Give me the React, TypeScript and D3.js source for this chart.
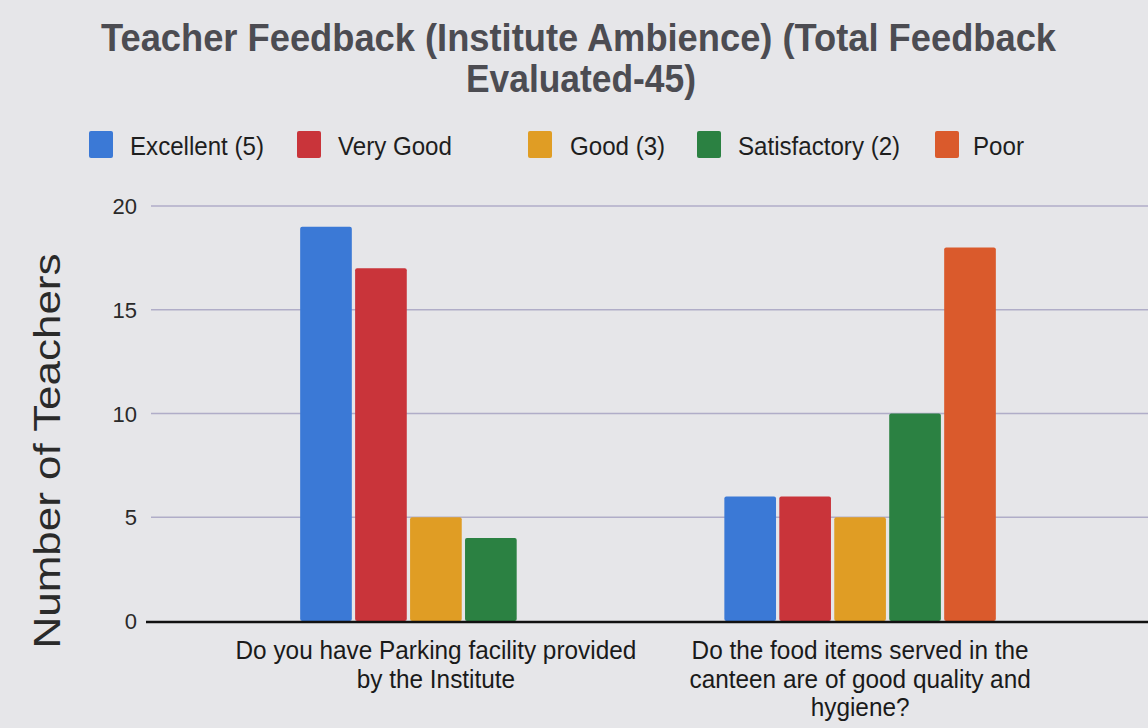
import React from "react";
import * as d3 from "d3";

const categories = [
  ["Do you have Parking facility provided", "by the Institute"],
  ["Do the food items served in the", "canteen are of good quality and", "hygiene?"],
];
const seriesNames = ["Excellent (5)", "Very Good", "Good (3)", "Satisfactory (2)", "Poor"];
const seriesColors = ["#3b79d6", "#c9343a", "#e09d24", "#2b8142", "#da5a2c"];
const excellent = [19, 6];
const veryGood = [17, 6];
const good = [5, 5];
const satisfactory = [4, 10];
const poor = [0, 18];
const yTicks = [0, 5, 10, 15, 20];
const titleLines = ["Teacher Feedback (Institute Ambience) (Total Feedback", "Evaluated-45)"];
const yTitle = "Number of Teachers";

const W = 1148;
const H = 728;

export default function App() {
  const values = [excellent, veryGood, good, satisfactory, poor];
  const left = 150;
  const right = 1146;
  const top = 206;
  const bottom = 621;
  const x0 = d3
    .scaleBand<number>()
    .domain(categories.map((_, i) => i))
    .range([left, right])
    .paddingInner(0.36)
    .paddingOuter(0.354);
  const x1 = d3
    .scaleBand<number>()
    .domain(seriesNames.map((_, i) => i))
    .range([0, x0.bandwidth()])
    .paddingInner(0.06);
  const y = d3.scaleLinear().domain([0, 20]).range([bottom, top]);

  const legendSwatchX = [89, 297, 528, 697, 935];
  const legendTextX = [130, 338, 570, 738, 973];
  const sans = "'Liberation Sans', Arial, sans-serif";
  const titleLen = [955, 230];
  const titleCx = [578.5, 581];

  return (
    <svg
      width={W}
      height={H}
      style={{ position: "absolute", left: 0, top: 0, background: "#e6e6e9" }}
    >
      <rect x={0} y={0} width={W} height={H} fill="#e6e6e9" />
      {titleLines.map((t, i) => (
        <text
          key={i}
          x={titleCx[i]}
          y={51 + i * 41}
          textAnchor="middle"
          fontFamily={sans}
          fontWeight="bold"
          fontSize={39}
          textLength={titleLen[i]}
          lengthAdjust="spacingAndGlyphs"
          fill="#4c4c52"
        >
          {t}
        </text>
      ))}
      {seriesNames.map((s, i) => (
        <g key={s}>
          <rect x={legendSwatchX[i]} y={131} width={24} height={27} rx={2} fill={seriesColors[i]} />
          <text
            transform={`translate(${legendTextX[i]},155) scale(0.965,1)`}
            fontFamily={sans}
            fontSize={25}
            fill="#1e1e1e"
          >
            {s}
          </text>
        </g>
      ))}
      {yTicks.map((t) => (
        <g key={t}>
          {t !== 0 && (
            <line x1={151} x2={W} y1={y(t)} y2={y(t)} stroke="#b0adc8" strokeWidth={1.3} />
          )}
          <text
            x={137}
            y={y(t) + 8}
            textAnchor="end"
            fontFamily={sans}
            fontSize={22}
            fill="#2a2a2a"
          >
            {t}
          </text>
        </g>
      ))}
      {categories.map((_, ci) =>
        values.map((vals, si) =>
          vals[ci] > 0 ? (
            <rect
              key={`${ci}-${si}`}
              x={(x0(ci) as number) + (x1(si) as number)}
              y={y(vals[ci])}
              width={x1.bandwidth()}
              height={bottom - y(vals[ci])}
              rx={2}
              fill={seriesColors[si]}
            />
          ) : null
        )
      )}
      <line x1={146} x2={W} y1={bottom + 1} y2={bottom + 1} stroke="#111" strokeWidth={2.5} />
      {categories.map((lines, ci) => (
        <g key={ci}>
          {lines.map((l, li) => (
            <text
              key={li}
              transform={`translate(${(x0(ci) as number) + x0.bandwidth() / 2},${659 + li * 28.5}) scale(0.975,1)`}
              textAnchor="middle"
              fontFamily={sans}
              fontSize={25}
              fill="#1a1a1a"
            >
              {l}
            </text>
          ))}
        </g>
      ))}
      <text
        transform={`translate(60, 451) rotate(-90)`}
        textAnchor="middle"
        fontFamily={sans}
        fontSize={37}
        textLength={395}
        lengthAdjust="spacingAndGlyphs"
        fill="#2a2a2a"
      >
        {yTitle}
      </text>
    </svg>
  );
}
